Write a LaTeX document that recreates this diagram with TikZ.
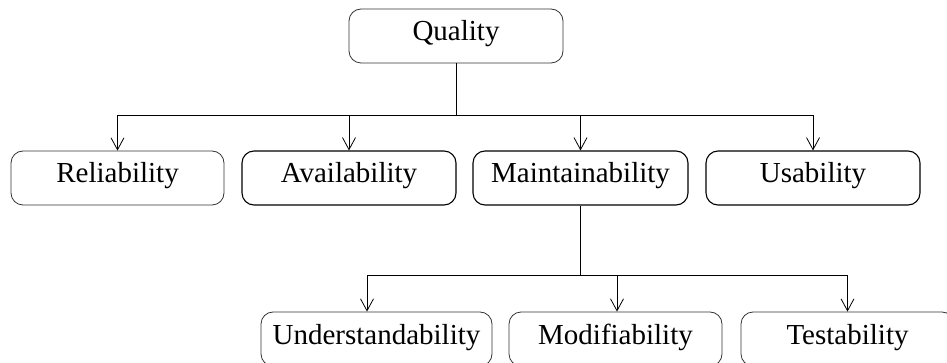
\documentclass[tikz,border=0pt]{standalone}
\usepackage{fontspec}
\setmainfont{Liberation Serif}
\usetikzlibrary{arrows.meta}
\tikzset{
  qbox/.style={draw=black!80, line width=0.8pt, rounded corners=12pt,
    minimum width=214pt, minimum height=54pt, inner sep=0pt,
    text height=19pt, text depth=9pt, font=\fontsize{29}{34}\selectfont},
  qdark/.style={qbox, draw=black, line width=1.1pt},
  qarrow/.style={-{Straight Barb[length=12pt,width=13pt]}, line width=0.8pt}
}
\begin{document}
\begin{tikzpicture}[x=1pt, y=1pt]
    \useasboundingbox (0,0) rectangle (947,-363);

    % top level
    \node[qbox] (quality) at (456,-36) {Quality};
    \coordinate (bus) at (456,-115.5);

    % second level
    \node[qbox, minimum width=213pt] (rel) at (117.5,-178) {Reliability};
    \node[qdark] (avail) at (349,-178) {Availability};
    \node[qdark, minimum width=215pt] (maint) at (580.5,-178) {Maintainability};
    \node[qdark] (usab) at (813,-178) {Usability};
    \coordinate (bus2) at (580.5,-275.5);

    % third level (cut off by the page edge)
    \node[qbox, minimum width=231pt] (under) at (376.5,-339) {Understandability};
    \node[qbox, minimum width=213pt] (modif) at (615.5,-339) {Modifiability};
    \node[qbox, minimum width=213pt] (test) at (847.5,-339) {Testability};

    \draw[line width=0.8pt] (quality) -- (bus);
    \draw[line width=0.8pt] (rel.north |- bus) -- (usab.north |- bus);
    \foreach \n in {rel, avail, maint, usab}
        \draw[qarrow] (\n.north |- bus) -- (\n.north);

    \draw[line width=0.8pt] (maint) -- (bus2);
    \draw[line width=0.8pt] ([xshift=-9.5pt]under.north |- bus2) -- (test.north |- bus2);
    \draw[qarrow] ([xshift=-9.5pt]under.north |- bus2) -- ([xshift=-9.5pt]under.north);
    \draw[qarrow] ([xshift=1.5pt]modif.north |- bus2) -- ([xshift=1.5pt]modif.north);
    \draw[qarrow] (test.north |- bus2) -- (test.north);
\end{tikzpicture}
\end{document}
